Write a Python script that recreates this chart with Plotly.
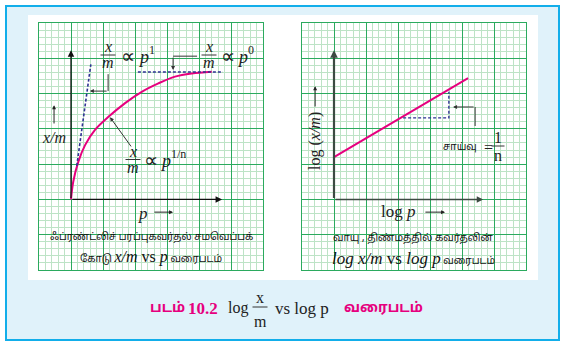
import plotly.graph_objects as go

W, H = 567, 347

# ---- data (graph-paper units: 7 x 7 major cells per panel) ----
curve_x = [1.0, 1.07, 1.23, 1.44, 1.75, 2.17, 2.69, 3.21, 3.73, 4.25, 4.77, 5.40]
curve_y = [2.0, 2.50, 3.07, 3.54, 3.97, 4.34, 4.73, 5.05, 5.29, 5.48, 5.57, 5.62]
p1_x = [1.18, 1.62]
p1_y = [2.95, 5.83]
p0_x = [3.09, 5.75]
p0_y = [5.61, 5.61]
log_x = [1.0, 5.19]
log_y = [3.2, 5.44]
slope_hx = [3.16, 4.59, 4.59]
slope_hy = [4.31, 4.31, 5.05]

MAG = "#E6007E"
NAVY = "#2E3192"
MAJ = "#2BAA5E"
MIN = "#BDE3C6"
SERIF = "Liberation Serif, Times New Roman, serif"
DJ = "DejaVu Sans, sans-serif"
TAMIL = "Noto Sans Tamil, Lohit Tamil, Latha, Noto Sans, sans-serif"

def px(x):
    return x / W

def py(y):
    return 1 - y / H

fig = go.Figure()

DASH = "3px,2px"
fig.add_trace(go.Scatter(x=curve_x, y=curve_y, mode="lines", line=dict(color=MAG, width=2, shape="spline"),
                         xaxis="x", yaxis="y", hoverinfo="skip"))
fig.add_trace(go.Scatter(x=p1_x, y=p1_y, mode="lines", line=dict(color=NAVY, width=1.6, dash=DASH),
                         xaxis="x", yaxis="y", hoverinfo="skip"))
fig.add_trace(go.Scatter(x=p0_x, y=p0_y, mode="lines", line=dict(color=NAVY, width=1.6, dash=DASH),
                         xaxis="x", yaxis="y", hoverinfo="skip"))
fig.add_trace(go.Scatter(x=log_x, y=log_y, mode="lines", line=dict(color=MAG, width=2),
                         xaxis="x2", yaxis="y2", hoverinfo="skip"))
fig.add_trace(go.Scatter(x=slope_hx, y=slope_hy, mode="lines", line=dict(color=NAVY, width=1.4, dash=DASH),
                         xaxis="x2", yaxis="y2", hoverinfo="skip"))
# elbow lines of pointer arrows
fig.add_trace(go.Scatter(x=[2.16, 2.16], y=[5.55, 5.07], mode="lines", line=dict(color="#333", width=1),
                         xaxis="x", yaxis="y", hoverinfo="skip"))
fig.add_trace(go.Scatter(x=[4.94, 4.19], y=[6.06, 6.06], mode="lines", line=dict(color="#333", width=1),
                         xaxis="x", yaxis="y", hoverinfo="skip"))
fig.add_trace(go.Scatter(x=[5.41, 5.41], y=[4.08, 4.62], mode="lines", line=dict(color="#333", width=1),
                         xaxis="x2", yaxis="y2", hoverinfo="skip"))

ax_common = dict(range=[0, 7], showticklabels=False, ticks="", zeroline=False, showgrid=True,
                 gridcolor=MAJ, gridwidth=1, dtick=1, tick0=0,
                 minor=dict(dtick=0.2, showgrid=True, gridcolor=MIN, gridwidth=1),
                 showline=True, mirror=True, linecolor=MAJ, linewidth=1, fixedrange=True)

ydom = [77 / H, 324 / H]
fig.update_layout(
    width=W, height=H, margin=dict(l=0, r=0, t=0, b=0),
    paper_bgcolor="white", plot_bgcolor="rgba(0,0,0,0)", showlegend=False,
    xaxis=dict(domain=[39 / W, 263 / W], anchor="y", **ax_common),
    yaxis=dict(domain=ydom, anchor="x", **ax_common),
    xaxis2=dict(domain=[302 / W, 526 / W], anchor="y2", **ax_common),
    yaxis2=dict(domain=ydom, anchor="x2", **ax_common),
)

shapes = [
    dict(type="rect", xref="paper", yref="paper", x0=px(6), x1=px(559), y0=py(340), y1=py(6),
         fillcolor="#E0F2FA", line=dict(color="#12AEEA", width=2), layer="below"),
    dict(type="rect", xref="paper", yref="paper", x0=px(28), x1=px(538), y0=py(280), y1=py(15),
         fillcolor="white", line=dict(width=0), layer="below"),
]

def frac_bar(xc, yc, w):
    return dict(type="line", xref="paper", yref="paper", x0=px(xc - w / 2), x1=px(xc + w / 2),
                y0=py(yc), y1=py(yc), line=dict(color="#333", width=1))

shapes += [frac_bar(108, 55, 15), frac_bar(209, 55, 15), frac_bar(133, 159.5, 15),
           frac_bar(498, 146, 13), frac_bar(260, 307, 15)]
fig.update_layout(shapes=shapes)

ann = []

def arrow(x, y, axv, ayv, xr="x", yr="y", w=1.2, color="#222", head=2, size=1.0):
    ann.append(dict(x=x, y=y, ax=axv, ay=ayv, xref=xr, yref=yr, axref=xr, ayref=yr, text="",
                    showarrow=True, arrowhead=head, arrowsize=size, arrowwidth=w, arrowcolor=color,
                    standoff=0, startstandoff=0))

# axes of the two panels
arrow(1, 6.23, 1, 2.0, w=1.3, color="#111")
arrow(5.72, 2.0, 1, 2.0, w=1.3, color="#111")
arrow(1, 6.23, 1, 2.0, "x2", "y2", w=2.2, color="#3C4A42", size=0.7)
arrow(5.66, 2.0, 1, 2.0, "x2", "y2", w=1.6, color="#3C4A42", size=0.8)
# pointers
arrow(1.59, 5.07, 2.16, 5.07, w=1, color="#333", size=0.8)
arrow(4.19, 5.67, 4.19, 6.06, w=1, color="#333", size=0.8)
arrow(2.22, 4.33, 2.91, 3.46, w=1, color="#333", size=0.8)
arrow(4.72, 4.62, 5.41, 4.62, "x2", "y2", w=1, color="#333", size=0.8)
# label arrows
arrow(0.47, 4.67, 0.47, 4.11, w=1, color="#222", size=0.8)
arrow(4.19, 1.64, 3.56, 1.64, w=1, color="#222", size=0.8)
arrow(4.47, 1.64, 3.81, 1.64, "x2", "y2", w=1, color="#222", size=0.8)
arrow(0.41, 5.21, 0.41, 4.59, "x2", "y2", w=1, color="#222", size=0.8)

def txt(x, y, s, size=14, family=SERIF, color="#222", xa="center", ya="middle", angle=0):
    ann.append(dict(x=px(x), y=py(y), xref="paper", yref="paper", text=s, showarrow=False,
                    xanchor=xa, yanchor=ya, textangle=angle,
                    font=dict(size=size, family=family, color=color)))

# left panel math labels
txt(108, 47, "<i>x</i>", 16)
txt(108, 63, "<i>m</i>", 16)
txt(119, 56, "∝", 20, DJ, xa="left")
txt(136, 57, "<i>p</i>", 18, xa="left")
txt(147, 50, "1", 12, xa="left")
txt(209, 47, "<i>x</i>", 16)
txt(209, 63, "<i>m</i>", 16)
txt(219, 56, "∝", 20, DJ, xa="left")
txt(235, 57, "<i>p</i>", 18, xa="left")
txt(246, 50, "0", 12, xa="left")
txt(133, 151.5, "<i>x</i>", 16)
txt(133, 167.5, "<i>m</i>", 16)
txt(142, 160, "∝", 20, DJ, xa="left")
txt(158, 161, "<i>p</i>", 18, xa="left")
txt(169, 154, "1/n", 12, xa="left")
txt(54, 137, "<i>x/m</i>", 16)
txt(143, 213, "<i>p</i>", 17)
txt(151, 237, "ஃப்ரண்ட்லிச் பரப்புகவர்தல் சமவெப்பக்", 10, TAMIL, color="#111")
txt(151, 257, "கோடு <span style='font-family:Liberation Serif;font-size:16px'><i>x/m</i> vs <i>p</i></span> வரைபடம்", 10, TAMIL, color="#111")

# right panel labels
txt(315, 141, "log (<i>x/m</i>)", 16, angle=-90)
txt(398, 212, "log <i>p</i>", 17)
txt(479, 148, "சாய்வு", 10, TAMIL, color="#111", xa="right")
txt(488, 147, "=", 16)
txt(498, 137, "1", 16)
txt(498, 155, "n", 16)
txt(413, 238, "வாயு , திண்மத்தில் கவர்தலின்", 10, TAMIL, color="#111")
txt(413, 258, "<span style='font-family:Liberation Serif;font-size:17px'><i>log x/m</i> vs <i>log p</i></span> வரைபடம்", 10, TAMIL, color="#111")

# bottom caption
txt(148, 308, "<b>படம்</b>", 14, TAMIL, color=MAG, xa="left")
txt(186, 308, "<b>10.2</b>", 17, SERIF, color=MAG, xa="left")
txt(226, 308, "log", 16, xa="left")
txt(260, 297, "x", 16)
txt(260, 321, "m", 16)
txt(273, 308, "vs log p", 17, xa="left")
txt(342, 308, "<b>வரைபடம்</b>", 14, TAMIL, color=MAG, xa="left")

fig.update_layout(annotations=ann)
fig.write_html("out.html")
